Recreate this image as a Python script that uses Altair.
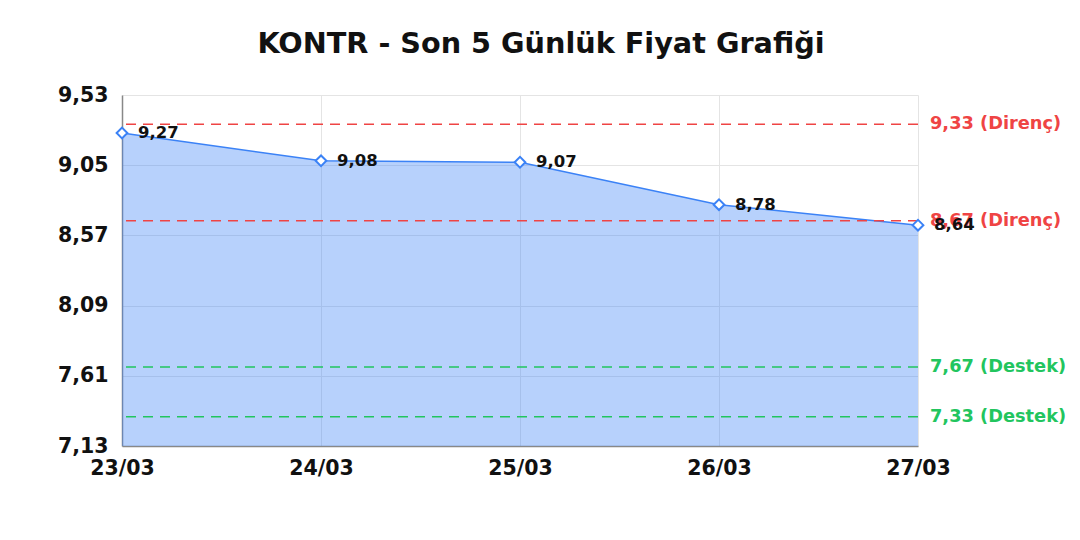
import altair as alt
import pandas as pd

dates = ["23/03", "24/03", "25/03", "26/03", "27/03"]
prices = [9.27, 9.08, 9.07, 8.78, 8.64]
levels = [9.33, 8.67, 7.67, 7.33]
level_kinds = ["Direnç", "Direnç", "Destek", "Destek"]
y_ticks = [7.13, 7.61, 8.09, 8.57, 9.05, 9.53]

FONT = "DejaVu Sans"
BLUE = "#3b82f6"
RED = "#ef4444"
GREEN = "#22c55e"

df = pd.DataFrame({"date": dates, "price": prices})
lv = pd.DataFrame({"level": levels, "kind": level_kinds})
lv["date"] = dates[-1]

x_enc = alt.X(
    "date:O",
    sort=dates,
    scale=alt.Scale(type="point", padding=0),
    axis=alt.Axis(
        title=None, labelAngle=0, labelFont=FONT, labelFontSize=20.5, labelFontWeight="bold",
        labelColor="#111", labelPadding=12, ticks=False, grid=True, gridColor="#e4e4e4",
        domainColor="#888", domainWidth=1.5,
    ),
)
y_scale = alt.Scale(domain=[y_ticks[0], y_ticks[-1]], zero=False, nice=False)
y_enc = alt.Y(
    "price:Q",
    scale=y_scale,
    axis=alt.Axis(
        title=None, values=y_ticks, labelFont=FONT, labelFontSize=20.5, labelFontWeight="bold",
        labelColor="#111", labelPadding=14, ticks=False, grid=True, gridColor="#e4e4e4",
        domainColor="#888", domainWidth=1.5,
        labelExpr="replace(format(datum.value, '.2f'), '.', ',')",
    ),
)

base = alt.Chart(df)

area = base.mark_area(color=BLUE, opacity=0.37, line=False).encode(
    x=x_enc, y=y_enc, y2=alt.datum(y_ticks[0])
)
line = base.mark_line(color=BLUE, strokeWidth=1.5).encode(x=x_enc, y=y_enc)
points = base.mark_point(
    shape="diamond", filled=True, fill="white", stroke=BLUE, strokeWidth=2, size=115, opacity=1
).encode(x=x_enc, y=y_enc)
labels = base.transform_calculate(
    lab="replace(format(datum.price, '.2f'), '.', ',')"
).mark_text(
    align="left", baseline="middle", dx=16, font=FONT, fontSize=16.5, fontWeight="bold", color="#111"
).encode(x=x_enc, y=y_enc, text="lab:N")

color_scale = alt.Scale(domain=["Direnç", "Destek"], range=[RED, GREEN])

rules = alt.Chart(lv).mark_rule(strokeDash=[10, 7], strokeWidth=1.5).encode(
    y=alt.Y("level:Q", scale=y_scale),
    color=alt.Color("kind:N", scale=color_scale, legend=None),
)
rule_labels = alt.Chart(lv).transform_calculate(
    lab="replace(format(datum.level, '.2f'), '.', ',') + ' (' + datum.kind + ')'"
).mark_text(
    align="left", baseline="middle", dx=12, font=FONT, fontSize=17.8, fontWeight="bold"
).encode(
    x=alt.X("date:O", sort=dates, scale=alt.Scale(type="point", padding=0)),
    y=alt.Y("level:Q", scale=y_scale),
    text="lab:N",
    color=alt.Color("kind:N", scale=color_scale, legend=None),
)

chart = alt.layer(area, line, rules, rule_labels, points, labels).properties(
    width=796,
    height=351,
    autosize=alt.AutoSizeParams(type="none"),
    padding={"left": 114, "top": 87, "right": 150, "bottom": 80},
    title=alt.TitleParams(
        "KONTR - Son 5 Günlük Fiyat Grafiği", font=FONT, fontSize=28.7, fontWeight="bold",
        color="#111", anchor="middle", dx=21, offset=26,
    ),
).configure_view(stroke=None)

chart.save("out.html", embed_options={"renderer": "svg", "actions": False})
